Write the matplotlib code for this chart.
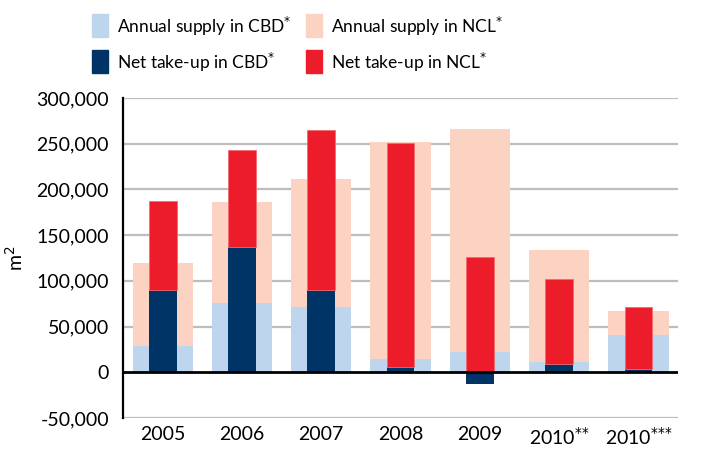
import numpy as np
import matplotlib.pyplot as plt
from matplotlib.patches import Rectangle

plt.rcParams['font.family'] = ['Lato', 'DejaVu Sans']

years = ['2005', '2006', '2007', '2008', '2009',
         '2010$^{{*}{*}}$', '2010$^{{*}{*}{*}}$']

# annual supply (m2)
supply_cbd = [29000, 76000, 71000, 14000, 22000, 11000, 41000]
supply_ncl = [91000, 110500, 140000, 238000, 244000, 123000, 26000]

# net take-up (m2)
takeup_cbd = [90000, 137500, 90000, 6000, -12500, 9500, 3500]
takeup_ncl = [97000, 105500, 175500, 244500, 126000, 92500, 67500]

c_sup_cbd = '#bed5ee'
c_sup_ncl = '#fcd3c3'
c_take_cbd = '#003466'
c_take_ncl = '#ed1c2a'

fig = plt.figure(figsize=(7.13, 4.61), dpi=100)
ax = fig.add_axes([0.1725, 0.0933, 0.7785, 0.6941])

x = np.arange(len(years))
wide = 0.76
narrow = 0.35

ax.bar(x, supply_cbd, wide, color=c_sup_cbd, zorder=2)
ax.bar(x, supply_ncl, wide, bottom=supply_cbd, color=c_sup_ncl, zorder=2)

# NCL take-up sits on top of CBD only when CBD is positive
tk_bottom = [max(v, 0) for v in takeup_cbd]
ax.bar(x, takeup_cbd, narrow, color=c_take_cbd, zorder=3)
ax.bar(x, takeup_ncl, narrow, bottom=tk_bottom, color=c_take_ncl,
       edgecolor='#f26a6f', linewidth=0.6, zorder=3)

ax.set_xlim(-0.5, len(years) - 0.5)
ax.set_ylim(-50000, 300000)
ax.set_yticks(np.arange(-50000, 300001, 50000))
ax.set_yticklabels(['{:,}'.format(v) for v in range(-50000, 300001, 50000)])
ax.set_xticks(x)
ax.set_xticklabels(years)

for v in range(-50000, 300001, 50000):
    if v != 0:
        ax.axhline(v, color='#bdbdbd', linewidth=1.6, zorder=1)
ax.axhline(0, color='black', linewidth=2.0, zorder=4)

for s in ['top', 'right', 'bottom']:
    ax.spines[s].set_visible(False)
ax.spines['left'].set_linewidth(1.6)
ax.spines['left'].set_zorder(5)

ax.tick_params(axis='both', length=0, labelsize=14)
ax.tick_params(axis='y', pad=10)
ax.tick_params(axis='x', pad=6)
ax.set_ylabel('m$^2$', fontsize=14, labelpad=8)

# legend built by hand: two columns, two rows
entries = [
    (92, 14, c_sup_cbd, 'Annual supply in CBD$^{*}$'),
    (306, 14, c_sup_ncl, 'Annual supply in NCL$^{*}$'),
    (92, 50, c_take_cbd, 'Net take-up in CBD$^{*}$'),
    (306, 50, c_take_ncl, 'Net take-up in NCL$^{*}$'),
]
W, H = 713.0, 461.0
for px, py, col, lab in entries:
    fig.add_artist(Rectangle((px / W, 1 - (py + 23) / H), 16 / W, 23 / H,
                             transform=fig.transFigure, color=col))
    fig.text((px + 25) / W, 1 - (py + 12) / H, lab, fontsize=12.5,
             va='center', ha='left')

fig.savefig('out.png', dpi=100)
